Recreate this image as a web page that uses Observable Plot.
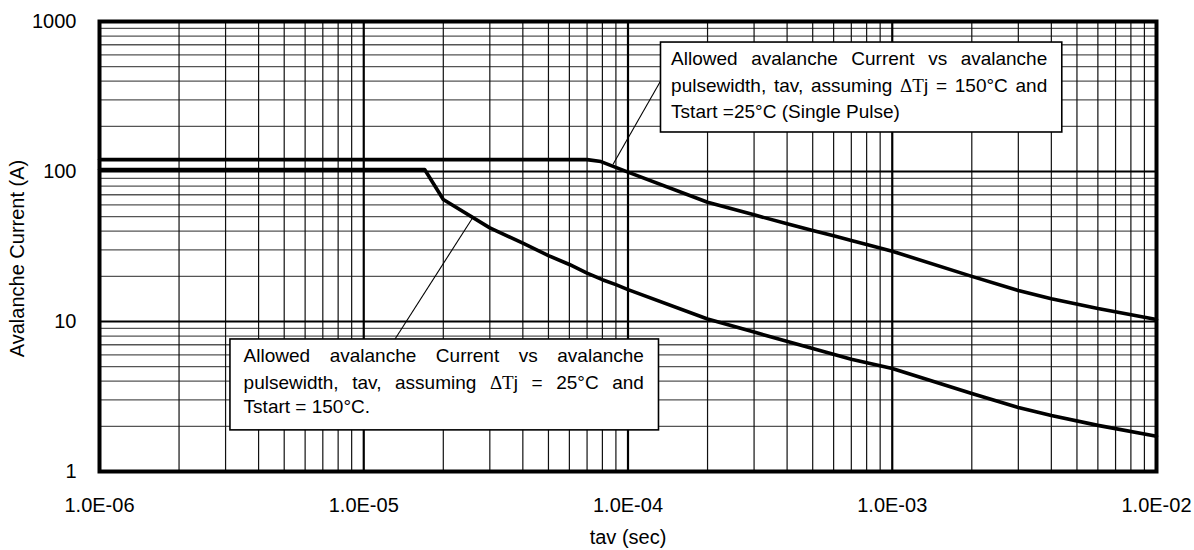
<!DOCTYPE html>
<html>
<head>
<meta charset="utf-8">
<script src="https://cdn.jsdelivr.net/npm/d3@7"></script>
<script src="https://cdn.jsdelivr.net/npm/@observablehq/plot@0.6"></script>
<style>
  html, body { margin: 0; padding: 0; background: #fff; }
  #chart svg { font-family: "Liberation Sans", Arial, Helvetica, sans-serif; }
</style>
</head>
<body>
<div id="chart"></div>
<script>
// ---- tick labels ----
const xTicks = [1e-6, 1e-5, 1e-4, 1e-3, 1e-2];
const xTickLabels = ["1.0E-06", "1.0E-05", "1.0E-04", "1.0E-03", "1.0E-02"];
const yTicks = [1, 10, 100, 1000];
const yTickLabels = ["1", "10", "100", "1000"];
const xTitle = "tav (sec)";
const yTitle = "Avalanche Current (A)";

// ---- series: ΔTj = 150°C, Tstart = 25°C (upper curve) ----
const upperT = [1e-6, 7e-5, 7.9e-5, 1e-4, 2e-4, 3e-4, 4e-4, 5e-4, 6e-4, 7e-4, 8e-4, 1e-3, 2e-3, 3e-3, 4e-3, 6e-3, 1e-2];
const upperI = [120, 120, 116.5, 99, 62.4, 51.4, 44.8, 40.4, 37.3, 34.7, 32.6, 29.4, 20, 16.1, 14.2, 12.2, 10.3];

// ---- series: ΔTj = 25°C, Tstart = 150°C (lower curve) ----
const lowerT = [1e-6, 1.7e-5, 2e-5, 3e-5, 4e-5, 5e-5, 6e-5, 7e-5, 8e-5, 9e-5, 1e-4, 2e-4, 3e-4, 5e-4, 7e-4, 1e-3, 2e-3, 3e-3, 4e-3, 6e-3, 1e-2];
const lowerI = [103, 103, 65, 42.1, 33.3, 27.5, 24, 21, 19, 17.6, 16.3, 10.4, 8.5, 6.6, 5.6, 4.86, 3.31, 2.67, 2.36, 2.03, 1.72];

// ---- annotations ----
const upperLines = ["Allowed avalanche Current vs avalanche", "pulsewidth, tav, assuming ΔTj = 150°C and", "Tstart =25°C (Single Pulse)"];
const lowerLines = ["Allowed avalanche Current vs avalanche", "pulsewidth, tav, assuming ΔTj = 25°C and", "Tstart = 150°C."];
const upperLineY = [566.6, 371.5, 251.2];
const lowerLineY = [5.87, 3.90, 2.68];
const boxX1 = [1.333e-4, 3.13e-6];
const boxX2 = [4.40e-3, 1.31e-4];
const boxY1 = [182, 1.88];
const boxY2 = [724, 7.59];
const textLeft = [1.456e-4, 3.51e-6];
const textRight = [3.86e-3, 1.149e-4];
const leadX1 = [1.345e-4, 1.31e-5];
const leadY1 = [416.9, 7.59];
const leadX2 = [8.77e-5, 2.587e-5];
const leadY2 = [111.3, 49.4];

// ---- build tables ----
const upper = upperT.map((t, i) => ({t, i: upperI[i]}));
const lower = lowerT.map((t, i) => ({t, i: lowerI[i]}));
const boxes = boxX1.map((_, k) => ({x1: boxX1[k], x2: boxX2[k], y1: boxY1[k], y2: boxY2[k]}));
const leaders = leadX1.map((_, k) => ({x1: leadX1[k], y1: leadY1[k], x2: leadX2[k], y2: leadY2[k]}));
const annText = [
  ...upperLines.map((s, j) => ({s, x: textLeft[0], xr: textRight[0], y: upperLineY[j], justify: j < 2})),
  ...lowerLines.map((s, j) => ({s, x: textLeft[1], xr: textRight[1], y: lowerLineY[j], justify: j < 2}))
];

// grid lines from decades
const xDecades = [1e-6, 1e-5, 1e-4, 1e-3];
const yDecades = [1, 10, 100];
const xMinor = xDecades.flatMap(d => [2,3,4,5,6,7,8,9].map(k => k * d));
const yMinor = yDecades.flatMap(d => [2,3,4,5,6,7,8,9].map(k => k * d));
const xMajor = [1e-5, 1e-4, 1e-3];
const yMajor = [10, 100];

const plot = Plot.plot({
  width: 1194,
  height: 550,
  marginLeft: 99,
  marginRight: 38,
  marginTop: 21,
  marginBottom: 79,
  style: {fontSize: "20px", fontFamily: "Liberation Sans, Arial, sans-serif", background: "#fff", color: "#000"},
  x: {type: "log", domain: [1e-6, 1e-2], label: null},
  y: {type: "log", domain: [1, 1000], label: null},
  marks: [
    Plot.ruleY(yMinor, {stroke: "#555", strokeWidth: 1.3}),
    Plot.ruleX(xMinor, {stroke: "#111", strokeWidth: 1.2}),
    Plot.ruleY(yMajor, {stroke: "#000", strokeWidth: 2.2}),
    Plot.ruleX(xMajor, {stroke: "#000", strokeWidth: 2.2}),
    Plot.line(upper, {x: "t", y: "i", stroke: "#000", strokeWidth: 3.6, strokeLinejoin: "round"}),
    Plot.line(lower, {x: "t", y: "i", stroke: "#000", strokeWidth: 3.6, strokeLinejoin: "round"}),
    Plot.link(leaders, {x1: "x1", y1: "y1", x2: "x2", y2: "y2", stroke: "#000", strokeWidth: 1.1}),
    Plot.rect(boxes, {x1: "x1", x2: "x2", y1: "y1", y2: "y2", fill: "#fff", stroke: "#000", strokeWidth: 1.6}),
    Plot.text(annText, {x: "x", y: "y", text: "s", textAnchor: "start", fontSize: 19, fill: "#000"}),
    Plot.frame({stroke: "#000", strokeWidth: 4}),
    Plot.axisX(xTicks, {tickFormat: d => xTickLabels[xTicks.indexOf(d)], tickSize: 0, tickPadding: 26, fontSize: 20, label: null}),
    Plot.axisY(yTicks, {tickFormat: d => yTickLabels[yTicks.indexOf(d)], tickSize: 0, tickPadding: 23, fontSize: 20, label: null}),
    Plot.text([xTitle], {frameAnchor: "bottom", dy: 72, fontSize: 20, fill: "#000"}),
    Plot.text([yTitle], {frameAnchor: "left", textAnchor: "middle", dx: -82, dy: 12, rotate: -90, fontSize: 20, fill: "#000"})
  ]
});
document.getElementById("chart").append(plot);

// style ΔT in serif and justify the lines like the original boxes
const xs = plot.scale("x");
const annGroup = plot.querySelectorAll('g[aria-label="text"]')[0];
d3.select(annGroup).selectAll("text").each(function(_, idx) {
  const row = annText[idx];
  if (!row) return;
  const el = d3.select(this);
  const s = row.s;
  const k = s.indexOf("ΔT");
  if (k >= 0) {
    el.text(null);
    el.append("tspan").text(s.slice(0, k));
    el.append("tspan").attr("font-family", "Liberation Serif, Times New Roman, serif").text("ΔT");
    el.append("tspan").text(s.slice(k + 2));
  }
  if (row.justify) {
    const target = xs.apply(row.xr) - xs.apply(row.x);
    const w = this.getComputedTextLength();
    const spaces = (s.match(/ /g) || []).length;
    if (spaces > 0 && target > w) el.attr("word-spacing", ((target - w) / spaces).toFixed(2));
  }
});
</script>
</body>
</html>
